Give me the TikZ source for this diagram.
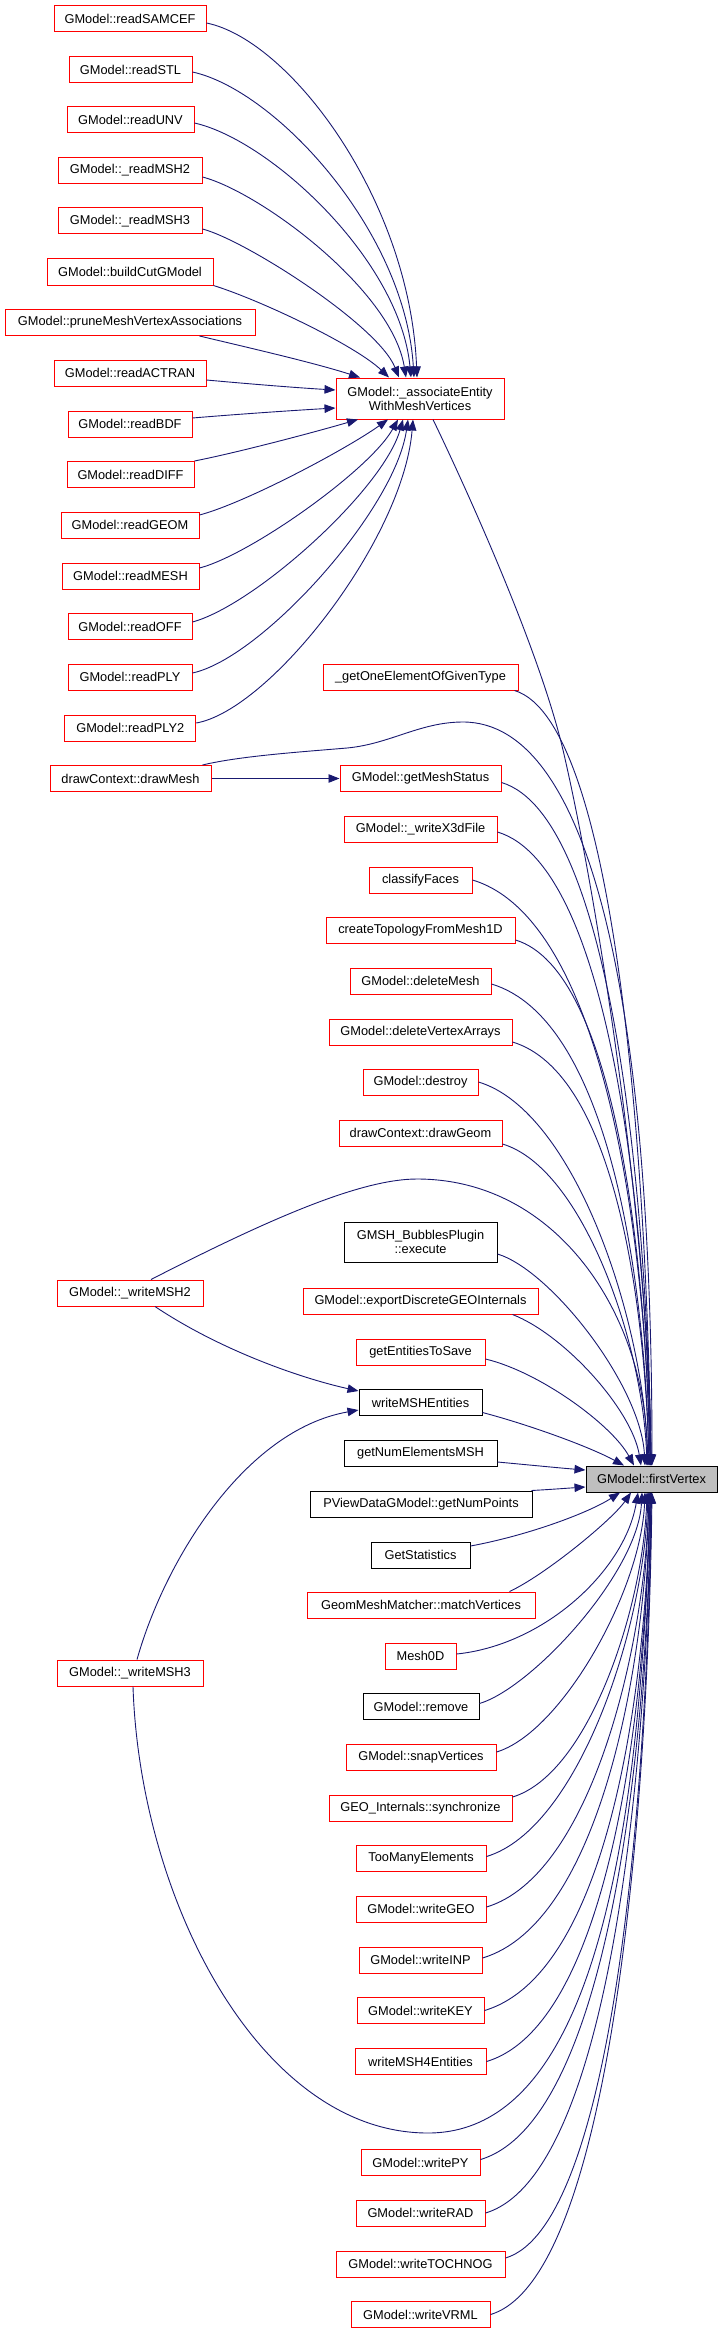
\documentclass[tikz,border=0pt]{standalone}
\usepackage{fontspec}
\setmainfont{Liberation Sans}
\usetikzlibrary{calc,arrows.meta}
\definecolor{edgeblue}{HTML}{191970}
\definecolor{fvgray}{HTML}{BFBFBF}
\definecolor{boxred}{HTML}{FF0000}
\newcommand\nf{\fontsize{12.8}{14}\selectfont}
\tikzset{
  box/.style={draw=boxred, line width=1pt, fill=white, minimum height=26pt, inner sep=0pt, font=\nf, text=black, align=center},
  bbox/.style={box, draw=black},
  edge/.style={draw=edgeblue, line width=0.9pt, -{Triangle[length=11pt,width=8.5pt]}},
}
% generic edge into fv from above / below
\newcommand\fvup[2]{%
  \draw[edge] let \p1=(#1), \p2=($(fv.north)+(#2,0)$), \n1={\x2-\x1}, \n2={\y1-\y2},
    \n3={min(0.75*\n1,0.25*\n2)}, \n4={min(0.12*\n2,0.3*\n3)}, \n5={0.38*\n2} in
    (\p1) .. controls ($(\p1)+(\n3,-\n4)$) and ($(\p2)+(-4,\n5)$) .. (\p2);}
\newcommand\fvdn[2]{%
  \draw[edge] let \p1=(#1), \p2=($(fv.south)+(#2,0)$), \n1={\x2-\x1}, \n2={\y2-\y1},
    \n3={min(0.75*\n1,0.25*\n2)}, \n4={min(0.12*\n2,0.3*\n3)}, \n5={0.38*\n2} in
    (\p1) .. controls ($(\p1)+(\n3,\n4)$) and ($(\p2)+(-4,-\n5)$) .. (\p2);}
\begin{document}
\begin{tikzpicture}[x=1pt,y=1pt]
\useasboundingbox (0,0) rectangle (721,-2333);
% left column
\node[box, minimum width=152pt] (sam) at (130,-19) {GModel::readSAMCEF};
\node[box, minimum width=123pt] (stl) at (130.5,-69.5) {GModel::readSTL};
\node[box, minimum width=127pt] (unv) at (130.5,-120) {GModel::readUNV};
\node[box, minimum width=144pt] (rm2) at (130,-170.5) {GModel::\_readMSH2};
\node[box, minimum width=144pt] (rm3) at (130,-221) {GModel::\_readMSH3};
\node[box, minimum width=166pt] (bcg) at (130,-272) {GModel::buildCutGModel};
\node[box, minimum width=250pt] (prn) at (130,-322.5) {GModel::pruneMeshVertexAssociations};
\node[box, minimum width=152pt] (act) at (130,-373) {GModel::readACTRAN};
\node[box, minimum width=124pt] (bdf) at (130,-424) {GModel::readBDF};
\node[box, minimum width=127pt] (dif) at (130.5,-474.5) {GModel::readDIFF};
\node[box, minimum width=138pt] (geo) at (130,-525) {GModel::readGEOM};
\node[box, minimum width=137pt] (msh) at (130.5,-576) {GModel::readMESH};
\node[box, minimum width=124pt] (off) at (130,-626.5) {GModel::readOFF};
\node[box, minimum width=124pt] (ply) at (130,-677) {GModel::readPLY};
\node[box, minimum width=131pt] (ply2) at (130.25,-728) {GModel::readPLY2};
\node[box, minimum width=161pt] (dm) at (130.5,-778.5) {drawContext::drawMesh};
\node[box, minimum width=146pt] (wm2) at (130,-1293) {GModel::\_writeMSH2};
\node[box, minimum width=146pt] (wm3) at (130,-1673) {GModel::\_writeMSH3};
% middle column
\node[box, minimum width=168pt, minimum height=41pt] (ae) at (420,-398.5) {GModel::\_associateEntity\\WithMeshVertices};
\node[box, minimum width=195pt] (goe) at (420.5,-677) {\_getOneElementOfGivenType};
\node[box, minimum width=161pt] (gms) at (420.5,-778.5) {GModel::getMeshStatus};
\node[box, minimum width=153pt] (x3d) at (420.5,-829) {GModel::\_writeX3dFile};
\node[box, minimum width=103pt] (cf) at (420.5,-880) {classifyFaces};
\node[box, minimum width=189pt] (ct) at (420.5,-930) {createTopologyFromMesh1D};
\node[box, minimum width=141pt] (dme) at (420.5,-981) {GModel::deleteMesh};
\node[box, minimum width=183pt] (dva) at (420.5,-1032) {GModel::deleteVertexArrays};
\node[box, minimum width=115pt] (des) at (420.5,-1082) {GModel::destroy};
\node[box, minimum width=163pt] (dg) at (420.5,-1133) {drawContext::drawGeom};
\node[bbox, minimum width=153pt, minimum height=40pt] (bub) at (420.5,-1242) {GMSH\_BubblesPlugin\\::execute};
\node[box, minimum width=235pt] (edg) at (420.5,-1301) {GModel::exportDiscreteGEOInternals};
\node[box, minimum width=129pt] (ets) at (420.5,-1352) {getEntitiesToSave};
\node[bbox, minimum width=123pt] (wme) at (420.5,-1402.5) {writeMSHEntities};
\node[bbox, minimum width=153pt] (gne) at (420.5,-1453) {getNumElementsMSH};
\node[bbox, minimum width=222pt] (pv) at (421,-1504) {PViewDataGModel::getNumPoints};
\node[bbox, minimum width=99pt] (gst) at (420.5,-1555) {GetStatistics};
\node[box, minimum width=228pt] (mv) at (421,-1605) {GeomMeshMatcher::matchVertices};
\node[box, minimum width=71pt] (m0) at (420.5,-1656) {Mesh0D};
\node[bbox, minimum width=116pt] (rem) at (421,-1706.5) {GModel::remove};
\node[box, minimum width=150pt] (snp) at (421,-1757) {GModel::snapVertices};
\node[box, minimum width=183pt] (gs) at (420.5,-1808) {GEO\_Internals::synchronize};
\node[box, minimum width=130pt] (tme) at (421,-1858.5) {TooManyElements};
\node[box, minimum width=130pt] (wgeo) at (421,-1909) {GModel::writeGEO};
\node[box, minimum width=123pt] (winp) at (420.5,-1960) {GModel::writeINP};
\node[box, minimum width=127pt] (wkey) at (420.5,-2010.5) {GModel::writeKEY};
\node[box, minimum width=131pt] (wm4) at (420.5,-2061.5) {writeMSH4Entities};
\node[box, minimum width=119pt] (wpy) at (420.5,-2162.5) {GModel::writePY};
\node[box, minimum width=129pt] (wrad) at (420.5,-2213) {GModel::writeRAD};
\node[box, minimum width=169pt] (wtoc) at (420.5,-2264) {GModel::writeTOCHNOG};
\node[box, minimum width=139pt] (wvr) at (420.5,-2314.5) {GModel::writeVRML};
% target
\node[box, draw=black, fill=fvgray, minimum width=131pt] (fv) at (651.5,-1479) {GModel::firstVertex};

% edges into _associateEntityWithMeshVertices
\draw[edge] ([yshift=-4pt]sam.east) .. controls (290,-40) and (410,-200) .. ($(ae.north)+(-3,0)$);
\draw[edge] ([yshift=-2.5pt]stl.east) .. controls (275,-90) and (405,-230) .. ($(ae.north)+(-6,0)$);
\draw[edge] ([yshift=-3pt]unv.east) .. controls (270,-140) and (400,-260) .. ($(ae.north)+(-9,0)$);
\draw[edge] ([yshift=-6.5pt]rm2.east) .. controls (260,-192) and (392,-290) .. ($(ae.north)+(-14,0)$);
\draw[edge] ([yshift=-8pt]rm3.east) .. controls (245,-240) and (378,-325) .. ($(ae.north)+(-21,0)$);
\draw[edge] (bcg.south east) .. controls (260,-300) and (355,-345) .. ($(ae.north)+(-31,0)$);
\draw[edge] ([xshift=-56pt]prn.south east) .. controls (250,-348) and (315,-363) .. ($(ae.north)+(-60,0)$);
\draw[edge] ([yshift=-7pt]act.east) .. controls (250,-384) and (300,-388) .. ($(ae.west)+(0,8.5)$);
\draw[edge] ([yshift=6pt]bdf.east) .. controls (240,-414) and (300,-410) .. ($(ae.west)+(0,-9.5)$);
\draw[edge] (dif.north east) .. controls (240,-452) and (315,-432) .. ($(ae.south)+(-62,0)$);
\draw[edge] ([yshift=10pt]geo.east) .. controls (245,-503) and (345,-450) .. ($(ae.south)+(-32,0)$);
\draw[edge] ([yshift=8pt]msh.east) .. controls (250,-555) and (370,-470) .. ($(ae.south)+(-22,0)$);
\draw[edge] ([yshift=4.5pt]off.east) .. controls (255,-605) and (383,-490) .. ($(ae.south)+(-17,0)$);
\draw[edge] ([yshift=4pt]ply.east) .. controls (262,-658) and (395,-510) .. ($(ae.south)+(-12,0)$);
\draw[edge] ([yshift=5pt]ply2.east) .. controls (270,-710) and (403,-540) .. ($(ae.south)+(-7,0)$);

% long edges into firstVertex
\draw[edge] ($(ae.south)+(13,0)$) .. controls (455,-465) and (537,-640) .. (563,-750)
  .. controls (598,-900) and (647,-1216) .. (fv.north);
\draw[edge] ([xshift=-9pt]dm.north east) .. controls (240,-756) and (300,-752) .. (347,-748)
  .. controls (390,-744) and (420,-722) .. (463,-722)
  .. controls (590,-722) and (652,-1000) .. ($(fv.north)+(0.5,0)$);
\draw[edge] (dm.east) -- (gms.west);
\draw[edge] ([xshift=21pt]wm2.north) .. controls (267,-1220) and (360,-1179) .. (417,-1179)
  .. controls (560,-1179) and (648,-1320) .. ($(fv.north)+(-4.5,0)$);
\draw[edge] ([xshift=25pt]wm2.south) .. controls (220,-1350) and (300,-1378) .. ($(wme.north west)+(0,-2)$);
\draw[edge] ([xshift=7pt]wm3.north) .. controls (165,-1560) and (245,-1430) .. ($(wme.south west)+(0,6)$);
\draw[edge] ([xshift=3pt]wm3.south) .. controls (140,-1900) and (260,-2133) .. (428,-2133)
  .. controls (590,-2133) and (640,-1850) .. ($(fv.south)+(-1,0)$);

% middle column, above
\fvup{[xshift=-4pt]goe.south east}{-0.5}
\fvup{[yshift=-4pt]gms.east}{-0.5}
\fvup{[yshift=-3pt]x3d.east}{-1}
\fvup{cf.east}{-1.5}
\fvup{[yshift=-10pt]ct.east}{-1.5}
\fvup{[yshift=-3pt]dme.east}{-2.5}
\fvup{[yshift=-10pt]dva.east}{-2.5}
\fvup{des.east}{-3.5}
\fvup{[yshift=-11pt]dg.east}{-4.5}
\fvup{[yshift=-12pt]bub.east}{-6.5}
\draw[edge] ([xshift=-26pt]edg.south east) .. controls (565,-1335) and (632,-1410) .. ($(fv.north)+(-10.5,0)$);
\draw[edge] ([yshift=-7pt]ets.east) .. controls (540,-1372) and (612,-1425) .. ($(fv.north)+(-17.5,0)$);
\draw[edge] ([yshift=-10pt]wme.east) .. controls (530,-1425) and (590,-1447) .. ($(fv.north)+(-27.5,0)$);
\draw[edge] ([yshift=-9pt]gne.east) .. controls (530,-1465) and (560,-1468) .. ($(fv.west)+(0,9)$);
\draw[edge] ([xshift=-1pt]pv.north east) .. controls (550,-1489.5) and (570,-1488) .. ($(fv.west)+(0,-8)$);
% middle column, below
\draw[edge] ([yshift=9pt]gst.east) .. controls (530,-1535) and (590,-1512) .. ($(fv.south)+(-31.5,0)$);
\draw[edge] ([xshift=-26pt]mv.north east) .. controls (545,-1575) and (612,-1520) .. ($(fv.south)+(-20.5,0)$);
\draw[edge] ([yshift=2pt]m0.east) .. controls (545,-1645) and (625,-1570) .. ($(fv.south)+(-13.5,0)$);
\fvdn{[yshift=3pt]rem.east}{-9.5}
\fvdn{[yshift=5pt]snp.east}{-6.5}
\fvdn{[yshift=11pt]gs.east}{-4.5}
\fvdn{[yshift=2pt]tme.east}{-3.5}
\fvdn{[yshift=2pt]wgeo.east}{-2.5}
\fvdn{[yshift=2pt]winp.east}{-2.5}
\fvdn{wkey.east}{-1.5}
\fvdn{wm4.east}{-1.5}
\fvdn{[yshift=3pt]wpy.east}{-0.5}
\fvdn{wrad.east}{-0.5}
\fvdn{[yshift=6pt]wtoc.east}{0}
\fvdn{wvr.east}{0.5}
\end{tikzpicture}
\end{document}
